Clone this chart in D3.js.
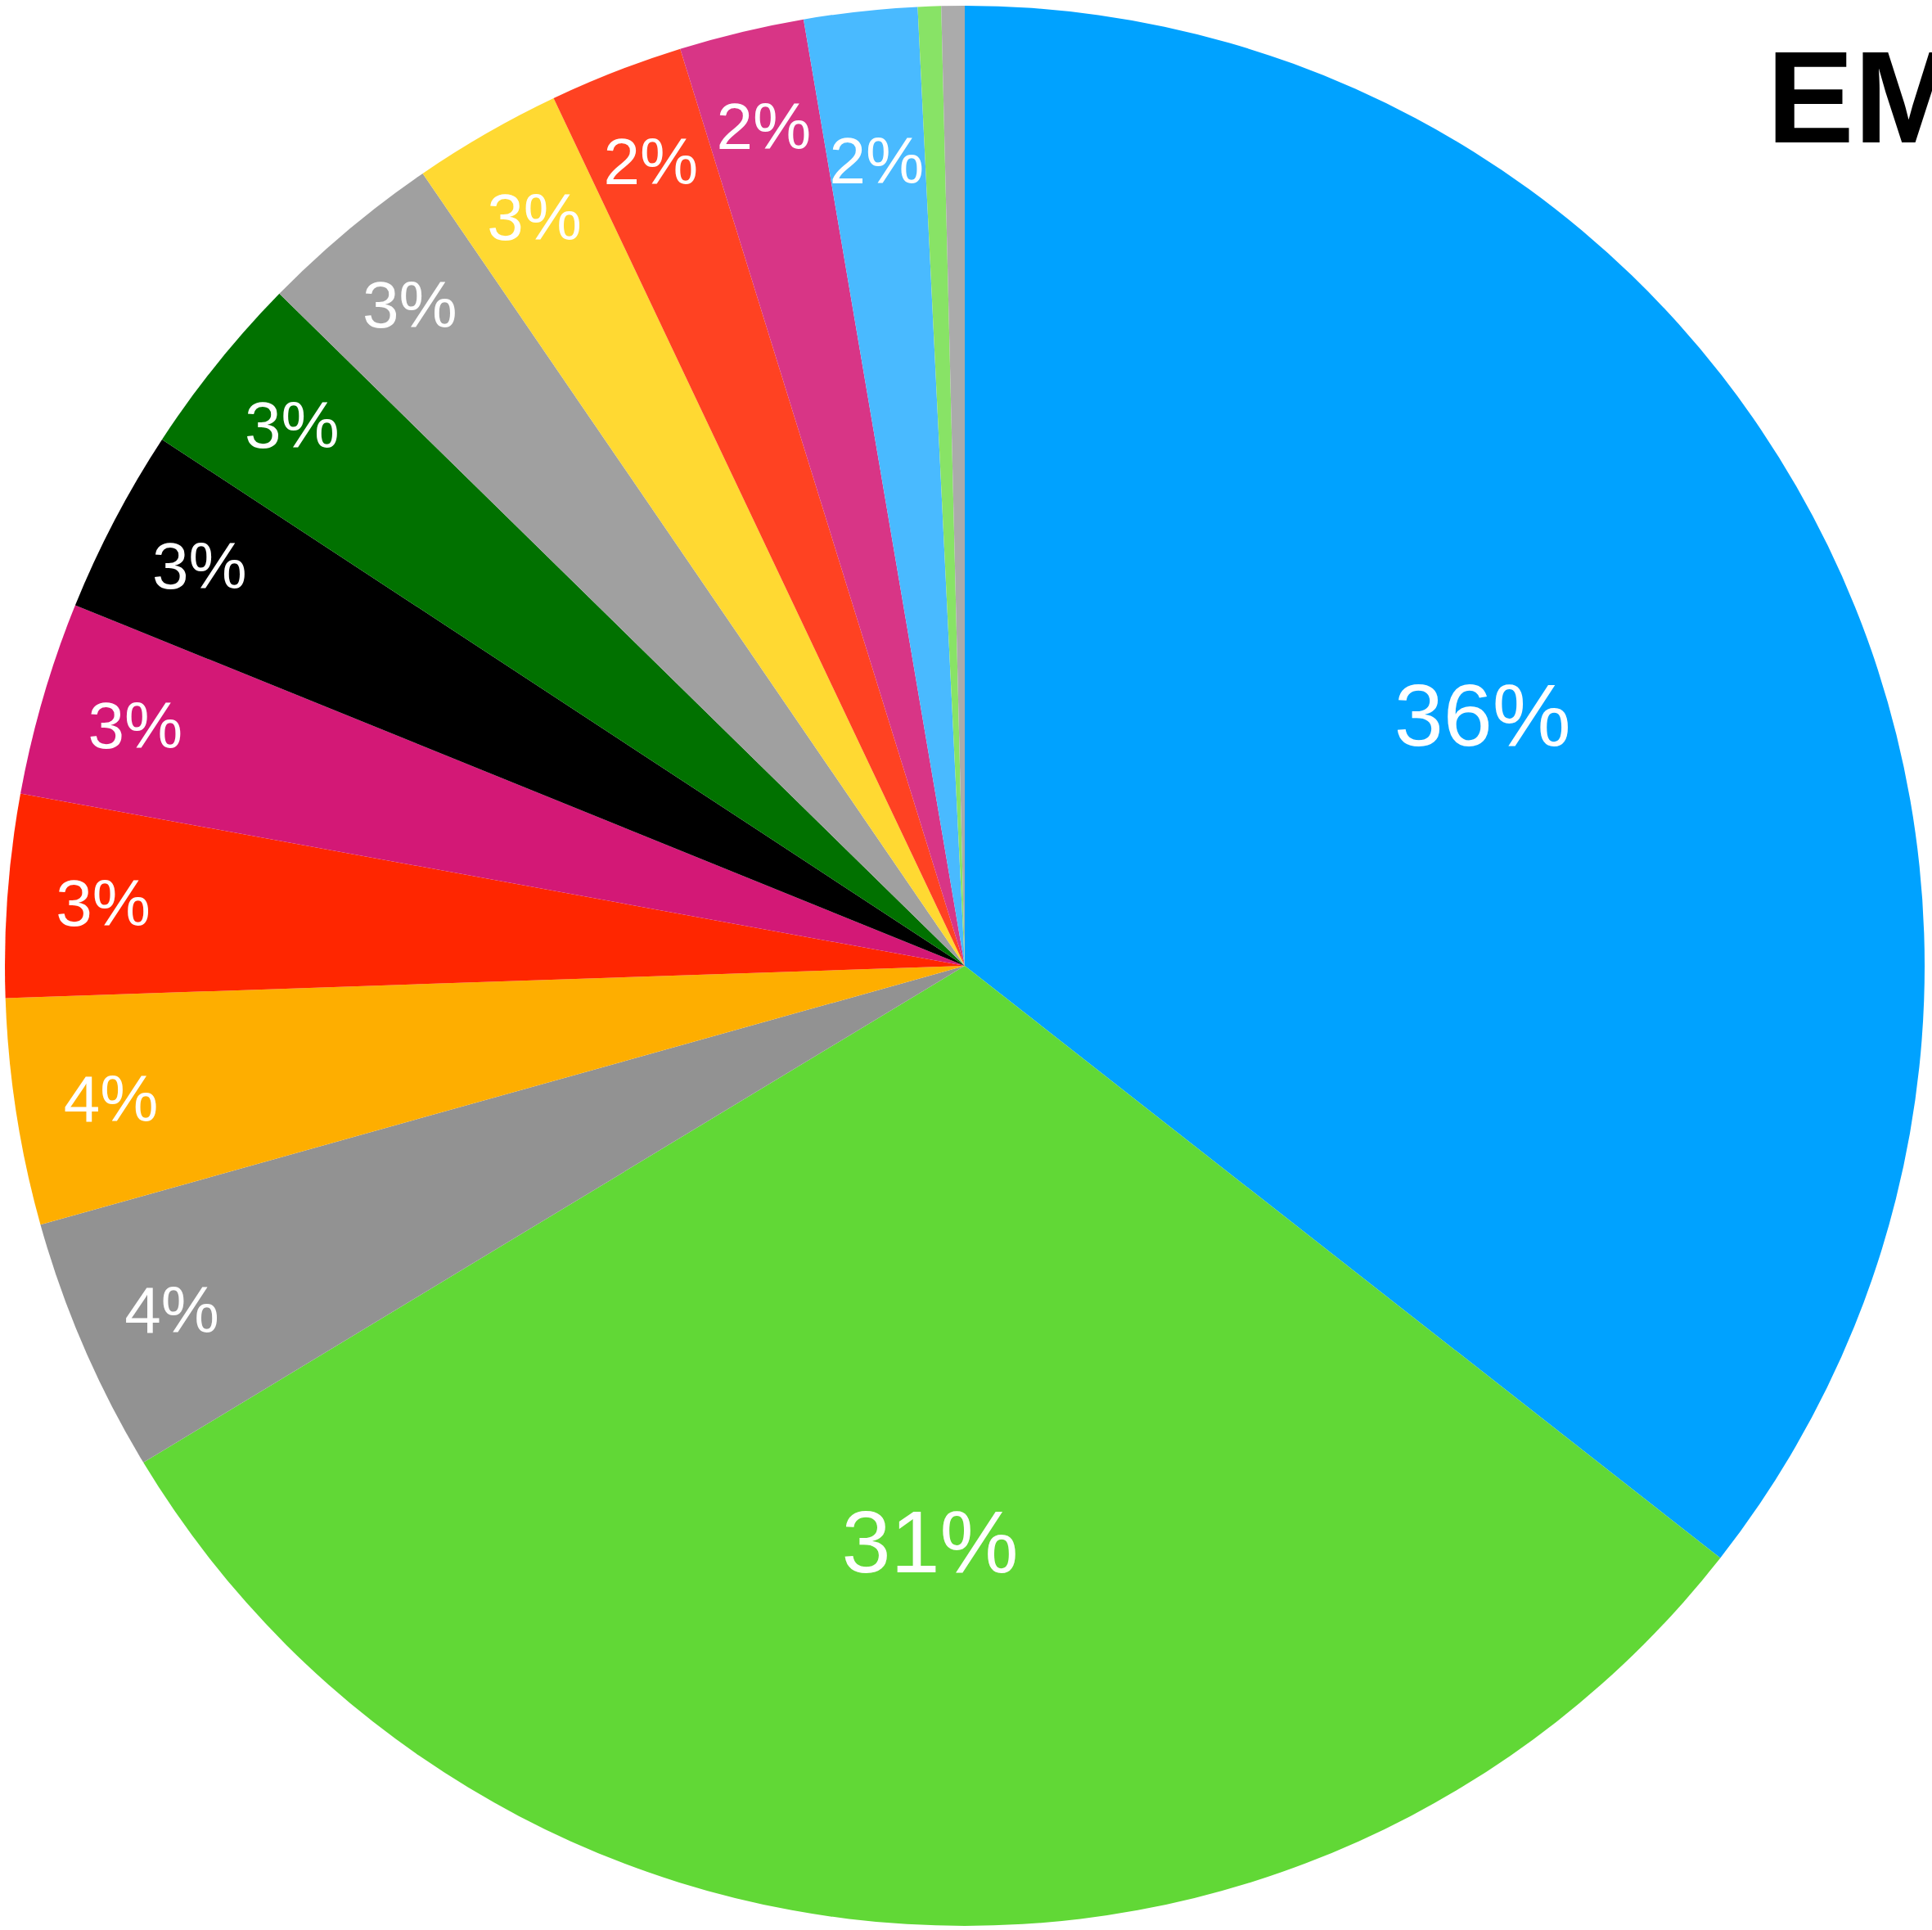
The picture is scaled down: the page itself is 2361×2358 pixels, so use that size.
<!DOCTYPE html>
<html>
<head>
<meta charset="utf-8">
<script src="https://cdn.jsdelivr.net/npm/d3@7"></script>
<style>
  html, body { margin: 0; padding: 0; background: #fff; overflow: hidden; }
</style>
</head>
<body>
<div id="chart"></div>
<script>
// slices in drawing order, clockwise from 12 o'clock
const categories = ["S1", "S2", "S3", "S4", "S5", "S6", "S7", "S8", "S9", "S10", "S11", "S12", "S13", "S14", "S15"];
const shares = [35.5, 30.7, 4.3, 3.8, 3.4, 3.25, 3.1, 3.1, 3.1, 2.5, 2.25, 2.1, 1.9, 0.39, 0.39];
const sliceColors = ["#00A2FF", "#61D836", "#929292", "#FEAE00", "#FF2600", "#D31876", "#000000",
                     "#017100", "#A0A0A0", "#FFD932", "#FF4222", "#D83586", "#49BAFF", "#88E366", "#ABABAB"];
const title = "EMISSIONS";

const width = 2361, height = 2358;
const cx = 1179, cy = 1180, radius = 1173;

const svg = d3.select("#chart").append("svg")
    .attr("width", width)
    .attr("height", height)
    .attr("viewBox", [0, 0, width, height]);

const data = categories.map((c, i) => ({name: c, value: shares[i], color: sliceColors[i]}));
const total = d3.sum(shares);

const pie = d3.pie()
    .value(d => d.value)
    .sort(null);

const arc = d3.arc()
    .innerRadius(0)
    .outerRadius(radius);

const arcs = pie(data);

const g = svg.append("g")
    .attr("transform", `translate(${cx},${cy})`);

g.selectAll("path")
  .data(arcs)
  .join("path")
    .attr("d", arc)
    .attr("fill", d => d.data.color);

// label distance depends on slice size
function labelFrac(d) {
  const a = d.endAngle - d.startAngle;
  if (a > 0.4) return 0.6;
  if (a < 0.125) return 0.845;
  return 0.9;
}

g.selectAll("text")
  .data(arcs.filter(d => d.data.value / total >= 0.01))
  .join("text")
    .attr("transform", d => {
      const mid = (d.startAngle + d.endAngle) / 2;
      const r = radius * labelFrac(d);
      return `translate(${Math.sin(mid) * r},${-Math.cos(mid) * r})`;
    })
    .attr("text-anchor", "middle")
    .attr("dy", "0.36em")
    .attr("fill", "#fff")
    .style("font-family", "'Liberation Sans', Arial, Helvetica, sans-serif")
    .style("font-size", d => (d.endAngle - d.startAngle > 0.4 ? 108 : 80) + "px")
    .text(d => d3.format(".0f")(d.data.value / total * 100) + "%");

svg.append("text")
    .attr("x", 2159)
    .attr("y", 174)
    .attr("fill", "#000")
    .style("font-family", "'Liberation Sans', Arial, Helvetica, sans-serif")
    .style("font-weight", "bold")
    .style("font-size", "160px")
    .text(title);
</script>
</body>
</html>
